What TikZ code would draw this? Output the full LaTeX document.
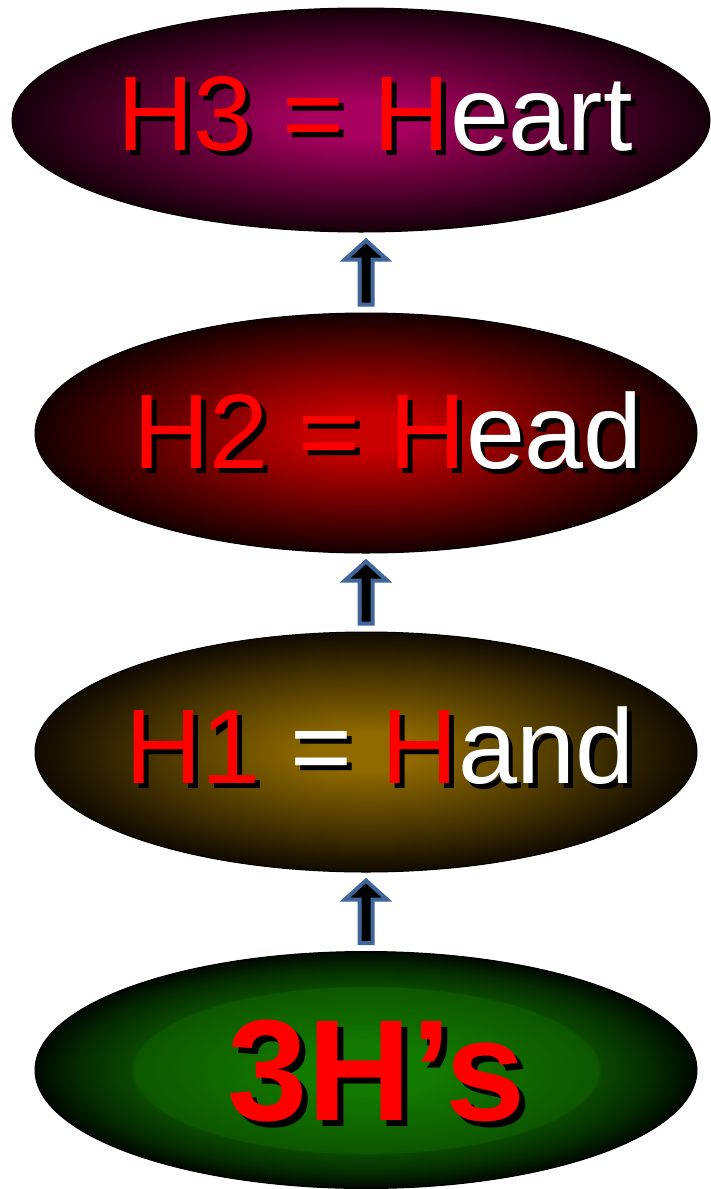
\documentclass[tikz,border=0pt]{standalone}
\usepackage{fontspec}
\setmainfont{Liberation Sans}
\usetikzlibrary{shapes.geometric,calc}
\definecolor{heartC}{HTML}{A8005E}
\definecolor{heartM}{HTML}{5A0032}
\definecolor{heartE}{HTML}{140008}
\definecolor{headC}{HTML}{C80000}
\definecolor{headM}{HTML}{6A0000}
\definecolor{headE}{HTML}{140000}
\definecolor{handC}{HTML}{906A00}
\definecolor{handM}{HTML}{4E3A00}
\definecolor{handE}{HTML}{100A00}
\definecolor{greenC}{HTML}{137A00}
\definecolor{greenB}{HTML}{0D5600}
\definecolor{greenO}{HTML}{0A4600}
\definecolor{greenM}{HTML}{052C00}
\definecolor{greenE}{HTML}{000800}
\definecolor{arrowblue}{HTML}{41679A}
\pgfdeclareradialshading{heartshade}{\pgfpoint{0bp}{0bp}}{color(0bp)=(heartC); color(4bp)=(heartC); color(15bp)=(heartM); color(25bp)=(heartE); color(50bp)=(heartE)}
\pgfdeclareradialshading{headshade}{\pgfpoint{0bp}{0bp}}{color(0bp)=(headC); color(4bp)=(headC); color(15bp)=(headM); color(25bp)=(headE); color(50bp)=(headE)}
\pgfdeclareradialshading{handshade}{\pgfpoint{0bp}{0bp}}{color(0bp)=(handC); color(4bp)=(handC); color(15bp)=(handM); color(25bp)=(handE); color(50bp)=(handE)}
\pgfdeclareradialshading{greenshade}{\pgfpoint{0bp}{0bp}}{color(0bp)=(greenC); color(5bp)=(greenC); color(17.5bp)=(greenB); color(17.8bp)=(greenO); color(21.5bp)=(greenM); color(25bp)=(greenE); color(50bp)=(greenE)}
\tikzset{
  ell/.style={ellipse, draw=black, line width=1pt, inner sep=0pt, minimum width=662, minimum height=240},
  lbl/.style={anchor=base west, inner sep=0pt, font=\fontsize{106}{120}\selectfont},
  biglbl/.style={anchor=base west, inner sep=0pt, font=\bfseries\fontsize{144}{160}\selectfont},
  barrow/.style={draw=arrowblue, fill=black, line width=4pt, line join=miter}
}
\newcommand{\blockarr}[2]{%
  \draw[barrow] let \p1=(#1), \p2=(#2) in
    (\x1-6.5pt,\y1) -- (\x1-6.5pt,\y2-19pt) -- (\x1-21pt,\y2-19pt) -- (\x1,\y2)
    -- (\x1+21pt,\y2-19pt) -- (\x1+6.5pt,\y2-19pt) -- (\x1+6.5pt,\y1) -- cycle;}
\begin{document}
\begin{tikzpicture}[x=1pt,y=-1pt]
\useasboundingbox (0,0) rectangle (711,1189);
% ellipses
\node[ell, minimum width=698, minimum height=224, shading=heartshade] (e3) at (361,120) {};
\node[ell, shading=headshade] (e2) at (366,433) {};
\node[ell, shading=handshade] (e1) at (366,752) {};
\node[ell, minimum height=237, shading=greenshade] (e0) at (366,1070) {};
% arrows
\coordinate (a1b) at ($(e2.north)+(0,-8)$);
\coordinate (a1t) at ($(e2.north |- e3.south)+(0,8)$);
\coordinate (a2b) at ($(e1.north)+(0,-8)$);
\coordinate (a2t) at ($(e2.south)+(0,8)$);
\coordinate (a3b) at ($(e0.north)+(0,-8)$);
\coordinate (a3t) at ($(e1.south)+(0,8)$);
\blockarr{a1b}{a1t}
\blockarr{a2b}{a2t}
\blockarr{a3b}{a3t}
% texts
\node[lbl, text=black] (t3s) at (122,155) {H3\ =\ Heart};
\node[lbl] (t3) at (117,150) {\textcolor{red}{H3}\ \textcolor{red}{=}\ \textcolor{red}{H}\textcolor{white}{eart}};
\node[lbl, text=black] (t2s) at (138,473) {H2\ =\ Head};
\node[lbl] (t2) at (133,468) {\textcolor{red}{H2}\ \textcolor{red}{=}\ \textcolor{red}{H}\textcolor{white}{ead}};
\node[lbl, text=black] (t1s) at (130,788) {H1\ =\ Hand};
\node[lbl] (t1) at (125,783) {\textcolor{red}{H1}\ \textcolor{white}{=}\ \textcolor{red}{H}\textcolor{white}{and}};
\node[biglbl, text=black] (t0s) at (233,1126) {3H’s};
\node[biglbl, text=red] (t0) at (227,1120) {3H’s};
\end{tikzpicture}
\end{document}
